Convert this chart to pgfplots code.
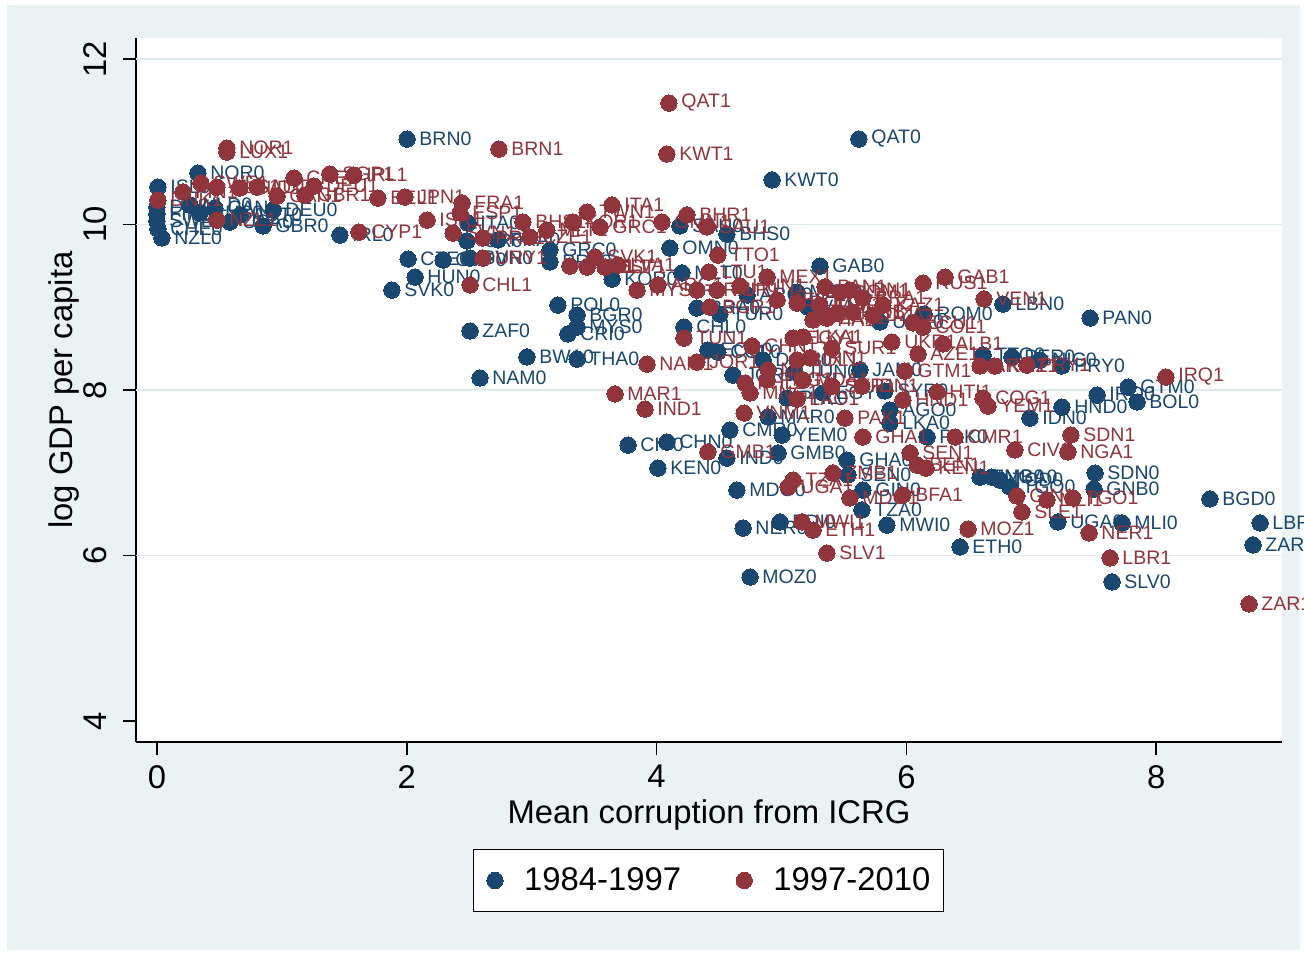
\documentclass[border=0pt]{standalone}
\usepackage{fontspec}
\setmainfont{Liberation Sans}
\usepackage{pgfplots}
\usepackage{pgfplotstable}
\pgfplotsset{compat=1.18}
\definecolor{navy}{RGB}{26,71,111}
\definecolor{maroon}{RGB}{144,53,59}
\definecolor{bgc}{RGB}{234,242,243}
\definecolor{gridc}{RGB}{222,234,238}
\pgfplotsset{dotlegend/.style={legend image code/.code={\draw[mark repeat=2,mark phase=2,##1] plot coordinates {(0pt,0pt) (4pt,0pt) (8pt,0pt)};}}}

\pgfplotstableread{
x y lab
0.008 10.453 ISL0
0.328 10.622 NOR0
0.000 10.211 DNK0
0.000 10.127 FIN0
0.000 10.042 SWE0
0.008 9.946 CHE0
0.040 9.837 NZL0
0.264 10.236 NLD0
0.344 10.139 AUS0
0.464 10.199 CAN0
0.665 10.115 AUT0
0.849 9.982 GBR0
0.929 10.175 DEU0
0.584 10.030 USA0
1.465 9.873 IRL0
1.881 9.208 SVK0
2.010 9.583 CZE0
2.066 9.365 HUN0
2.290 9.571 CYP0
2.506 9.595 SVN0
2.482 9.801 ISR0
2.490 10.018 ITA0
2.730 9.813 FRA0
3.146 9.692 GRC0
3.146 9.547 PRT0
3.210 9.027 POL0
3.363 8.906 BGR0
3.363 8.761 MYS0
3.290 8.677 CRI0
2.506 8.713 ZAF0
2.962 8.399 BWA0
2.586 8.145 NAM0
3.363 8.374 THA0
3.643 9.341 KOR0
4.203 9.414 MLT0
4.219 8.761 CHL0
4.107 9.716 OMN0
4.323 8.991 BRA0
4.507 8.918 TUR0
4.563 9.885 BHS0
4.187 9.982 SAU0
4.924 10.538 KWT0
5.620 11.033 QAT0
2.002 11.033 BRN0
5.308 9.498 GAB0
6.773 9.039 LBN0
7.470 8.870 PAN0
6.141 8.918 ROM0
4.724 9.148 ARG0
5.124 9.184 MEX0
5.212 9.003 VEN0
5.788 8.822 URY0
4.411 8.483 ECU0
4.491 8.459 COL0
4.611 8.181 JOR0
4.852 8.362 DOM0
5.108 8.217 TUN0
5.628 8.242 JAM0
5.044 7.903 PHL0
5.332 7.964 EGY0
5.828 7.988 SYR0
5.868 7.758 AGO0
5.868 7.601 LKA0
6.165 7.432 PAK0
6.613 8.423 TTO0
6.845 8.399 PER0
7.069 8.362 NIC0
7.245 8.290 PRY0
7.774 8.036 GTM0
7.846 7.855 BOL0
7.526 7.939 IRQ0
7.245 7.794 HND0
6.989 7.661 IDN0
7.510 6.997 SDN0
7.502 6.803 GNB0
6.829 6.828 TGO0
7.213 6.405 UGA0
7.726 6.393 MLI0
8.430 6.683 BGD0
8.831 6.393 LBR0
8.775 6.127 ZAR0
7.646 5.680 SLV0
6.429 6.103 ETH0
5.844 6.368 MWI0
5.644 6.550 TZA0
5.652 6.791 GIN0
4.748 5.740 MOZ0
4.692 6.332 NER0
4.988 6.405 BDI0
4.643 6.791 MDG0
4.011 7.057 KEN0
3.771 7.335 CIV0
4.083 7.371 CHN0
4.587 7.516 CMR0
5.004 7.456 YEM0
4.563 7.178 IND0
4.972 7.239 GMB0
5.524 7.154 GHA0
4.892 7.674 MAR0
6.589 6.948 ZMB0
6.685 6.948 NGA0
5.532 6.973 SEN0
6.749 6.912 TCD0
}\navytab

\pgfplotstableread{
x y lab
0.008 10.296 DNK1
0.208 10.393 FIN1
0.352 10.501 SWE1
0.480 10.453 AUS1
0.664 10.441 NLD1
0.801 10.453 AUT1
0.961 10.344 CAN1
1.097 10.562 CHE1
1.185 10.356 GBR1
1.257 10.465 DEU1
1.385 10.610 SGP1
1.577 10.598 IRL1
1.769 10.320 BEL1
1.985 10.332 JPN1
0.480 10.054 NZL1
0.560 10.924 NOR1
0.560 10.876 LUX1
1.617 9.909 CYP1
2.162 10.054 ISR1
2.442 10.260 FRA1
2.426 10.139 ESP1
2.370 9.897 SVN1
2.610 9.837 PRT1
2.930 10.030 BHS1
2.986 9.849 CZE1
3.122 9.933 MLT1
3.330 10.030 KOR1
3.443 10.151 TWN1
3.547 9.970 GRC1
3.643 10.236 ITA1
4.043 10.030 OMN1
4.243 10.115 BHR1
4.403 9.970 SAU1
2.610 9.595 URY1
3.306 9.498 HRV1
3.443 9.486 POL1
3.507 9.607 SVK1
3.587 9.486 EST1
3.691 9.510 LVA1
2.506 9.269 CHL1
3.843 9.208 MYS1
4.011 9.269 ARG1
4.323 9.208 CRI1
4.419 9.426 LTU1
4.483 9.208 TUR1
4.668 9.257 HUN1
4.884 9.365 MEX1
4.427 9.003 BGR1
4.219 8.628 TUN1
4.764 8.532 CHN1
4.099 11.468 QAT1
2.738 10.912 BRN1
4.083 10.852 KWT1
4.491 9.631 TTO1
3.923 8.314 NAM1
4.323 8.338 JOR1
3.667 7.952 MAR1
3.907 7.770 IND1
4.411 7.251 GMB1
4.700 7.722 VNM1
4.964 9.088 PER1
5.124 9.051 ROU1
5.348 9.245 PAN1
5.468 9.184 DOM1
5.548 9.208 LBN1
5.652 9.112 BRA1
5.812 9.027 KAZ1
6.133 9.293 RUS1
6.309 9.365 GAB1
6.621 9.100 VEN1
5.252 8.846 THA1
5.364 8.870 ZAF1
5.444 8.930 MKD1
5.572 8.942 SRB1
5.732 8.906 DZA1
6.053 8.810 ECU1
6.133 8.761 COL1
5.092 8.628 EGY1
5.172 8.640 LKA1
5.404 8.507 SUR1
5.884 8.580 UKR1
6.293 8.556 ALB1
6.093 8.435 AZE1
5.988 8.229 GTM1
6.589 8.290 ARM1
6.709 8.290 KGZ1
6.965 8.302 PRY1
5.124 8.362 BOL1
5.228 8.387 IRN1
4.892 8.242 NIC1
4.884 8.121 PNG1
4.708 8.084 PHL1
4.748 7.964 MNG1
5.172 8.121 MDA1
5.404 8.048 SYR1
5.644 8.048 IDN1
5.124 7.891 LAO1
5.972 7.879 HND1
6.245 7.976 HTI1
6.613 7.903 COG1
6.653 7.806 YEM1
5.508 7.661 PAK1
5.652 7.432 GHA1
6.389 7.432 CMR1
6.869 7.275 CIV1
6.029 7.239 SEN1
6.085 7.093 BEN1
6.157 7.057 KEN1
5.412 6.997 ZMB1
5.092 6.912 TZA1
5.052 6.828 UGA1
5.548 6.695 MDG1
5.972 6.731 BFA1
5.164 6.405 MWI1
5.252 6.308 ETH1
5.364 6.030 SLV1
6.493 6.320 MOZ1
6.885 6.719 GIN1
6.925 6.526 SLE1
7.125 6.671 MLI1
7.333 6.695 TGO1
7.317 7.456 SDN1
7.293 7.251 NGA1
7.462 6.272 NER1
7.630 5.970 LBR1
8.743 5.414 ZAR1
8.078 8.157 IRQ1
5.308 9.027 JAM1
}\maroontab

\begin{document}
\begin{tikzpicture}
\useasboundingbox (0,0) rectangle (652pt,476.5pt);
\fill[bgc] (3.5pt,1.5pt) rectangle (650pt,474pt);
\begin{axis}[
  at={(68pt,105.5pt)}, anchor=south west,
  scale only axis, width=573pt, height=352pt,
  xmin=-0.168, xmax=9.007, ymin=3.746, ymax=12.254,
  clip=false,
  axis x line*=bottom, axis y line*=left,
  axis line style={line width=0.8pt, black},
  xtick={0,2,4,6,8}, ytick={4,6,8,10,12},
  tick align=outside, major tick length=6.5pt,
  tick style={line width=0.8pt, black},
  extra y ticks={6,8,10,12}, extra y tick labels={},
  extra y tick style={grid=major, major tick length=0pt},
  grid style={gridc, line width=0.9pt},
  axis background/.style={fill=white},
  /pgf/number format/assume math mode=true,
  ticklabel style={font=\fontsize{16.4}{19.7}\selectfont, inner sep=0pt},
  xticklabel style={anchor=north},
  yticklabel style={rotate=90, anchor=base},
  xticklabel shift=5pt,
  yticklabel shift=8.5pt,
  xlabel={Mean corruption from ICRG},
  ylabel={log GDP per capita},
  label style={font=\fontsize{16.4}{19.7}\selectfont, inner sep=0pt},
  xlabel style={at={(axis description cs:0.5,-0.1151)}, anchor=base},
  ylabel style={at={(axis description cs:-0.0554,0.5)}, anchor=base},
  legend columns=2,
  legend style={at={(axis description cs:0.4996,-0.1967)}, anchor=center,
    draw=black, line width=0.6pt, fill=white,
    font=\fontsize{16.4}{19.7}\selectfont,
    inner xsep=6.5pt, inner ysep=9pt,
    column sep=10.5pt,
    /tikz/every even column/.append style={column sep=27.5pt},
    nodes={inner sep=0pt}},
]
\addplot[only marks, mark=*, mark size=4.1pt, color=navy,
  mark options={draw=navy, fill=navy, line width=0pt},
  point meta=explicit symbolic,
  nodes near coords,
  nodes near coords style={anchor=west, inner sep=0pt, xshift=6.2pt,
    font=\fontsize{9.75}{11.7}\selectfont, text=navy},
  dotlegend
] table[x=x, y=y, meta=lab] {\navytab};
\addlegendentry{1984-1997}
\addplot[only marks, mark=*, mark size=4.1pt, color=maroon,
  mark options={draw=maroon, fill=maroon, line width=0pt},
  point meta=explicit symbolic,
  nodes near coords,
  nodes near coords style={anchor=west, inner sep=0pt, xshift=6.2pt,
    font=\fontsize{9.75}{11.7}\selectfont, text=maroon},
  dotlegend
] table[x=x, y=y, meta=lab] {\maroontab};
\addlegendentry{1997-2010}
\end{axis}
\end{tikzpicture}
\end{document}
